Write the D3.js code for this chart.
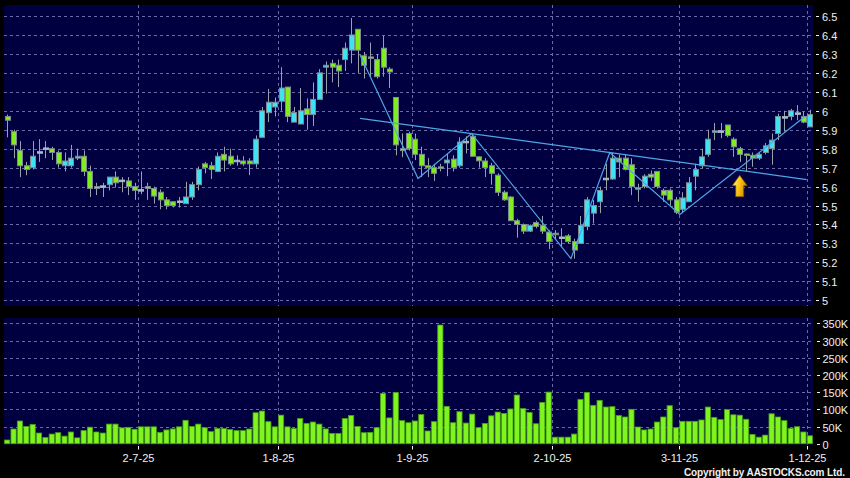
<!DOCTYPE html>
<html><head><meta charset="utf-8">
<script src="https://cdn.jsdelivr.net/npm/d3@7"></script>
<style>html,body{margin:0;padding:0;background:#000;}svg{display:block}</style>
</head><body><svg id="c" width="850" height="478"></svg>
<script>
// ---- data ----
const dates = [
"2-6-25","3-6-25","4-6-25","5-6-25","6-6-25","9-6-25","10-6-25","11-6-25","12-6-25","13-6-25","16-6-25","17-6-25","18-6-25","19-6-25","20-6-25","23-6-25","24-6-25","25-6-25","26-6-25","27-6-25","30-6-25",
"2-7-25","3-7-25","4-7-25","7-7-25","8-7-25","9-7-25","10-7-25","11-7-25","14-7-25","15-7-25","16-7-25","17-7-25","18-7-25","21-7-25","22-7-25","23-7-25","24-7-25","25-7-25","28-7-25","29-7-25","30-7-25","31-7-25",
"1-8-25","4-8-25","5-8-25","6-8-25","7-8-25","8-8-25","11-8-25","12-8-25","13-8-25","14-8-25","15-8-25","18-8-25","19-8-25","20-8-25","21-8-25","22-8-25","25-8-25","26-8-25","27-8-25","28-8-25","29-8-25",
"1-9-25","2-9-25","3-9-25","4-9-25","5-9-25","8-9-25","9-9-25","10-9-25","11-9-25","12-9-25","15-9-25","16-9-25","17-9-25","18-9-25","19-9-25","22-9-25","23-9-25","24-9-25","25-9-25","26-9-25","29-9-25","30-9-25",
"2-10-25","3-10-25","6-10-25","8-10-25","9-10-25","10-10-25","13-10-25","14-10-25","15-10-25","16-10-25","17-10-25","20-10-25","21-10-25","22-10-25","23-10-25","24-10-25","27-10-25","28-10-25","30-10-25","31-10-25",
"3-11-25","4-11-25","5-11-25","6-11-25","7-11-25","10-11-25","11-11-25","12-11-25","13-11-25","14-11-25","17-11-25","18-11-25","19-11-25","20-11-25","21-11-25","24-11-25","25-11-25","26-11-25","27-11-25","28-11-25",
"1-12-25"];
const open = [
5.97,5.89,5.79,5.71,5.70,5.78,5.80,5.80,5.78,5.71,
5.71,5.75,5.76,5.68,5.59,5.60,5.61,5.65,5.63,5.63,
5.60,5.58,5.60,5.59,5.57,5.53,5.52,5.52,5.51,5.545,
5.61,5.72,5.71,5.68,5.77,5.76,5.735,5.735,5.735,5.72,
5.86,5.99,6.02,6.05,6.125,5.94,5.93,6.01,5.98,6.06,
6.23,6.25,6.24,6.27,6.32,6.43,6.29,6.28,6.27,6.33,
6.22,6.07,5.80,5.88,5.85,5.77,5.71,5.70,5.695,5.725,
5.745,5.71,5.835,5.865,5.757,5.735,5.71,5.66,5.57,5.545,
5.42,5.40,5.365,5.41,5.395,5.36,5.35,5.33,5.34,5.31,
5.30,5.39,5.46,5.52,5.64,5.64,5.75,5.75,5.715,5.585,
5.60,5.665,5.68,5.58,5.58,5.53,5.48,5.52,5.655,5.71,
5.77,5.885,5.89,5.925,5.85,5.80,5.768,5.765,5.75,5.78,
5.80,5.88,5.965,5.97,5.985,5.97,5.915];
const high = [
5.98,5.90,5.84,5.73,5.84,5.85,5.84,5.81,5.79,5.78,
5.82,5.80,5.79,5.71,5.62,5.62,5.65,5.68,5.65,5.65,
5.62,5.68,5.62,5.60,5.585,5.545,5.52,5.545,5.625,5.625,
5.705,5.73,5.73,5.78,5.81,5.80,5.765,5.76,5.75,5.87,
6.02,6.115,6.07,6.23,6.125,6.02,6.12,6.065,6.15,6.22,
6.26,6.27,6.27,6.36,6.49,6.43,6.31,6.36,6.30,6.395,
6.23,6.07,5.88,5.89,5.88,5.81,5.75,5.72,5.72,5.775,
5.765,5.86,5.865,5.88,5.76,5.75,5.725,5.67,5.58,5.55,
5.43,5.405,5.40,5.42,5.445,5.37,5.37,5.38,5.35,5.325,
5.445,5.545,5.53,5.60,5.72,5.78,5.77,5.77,5.75,5.615,
5.665,5.685,5.68,5.59,5.59,5.545,5.57,5.65,5.72,5.80,
5.90,5.935,5.935,5.925,5.86,5.81,5.775,5.78,5.78,5.83,
5.88,5.985,6.00,6.01,6.03,5.995,6.005];
const low = [
5.86,5.75,5.65,5.66,5.69,5.73,5.75,5.74,5.70,5.68,
5.70,5.74,5.655,5.545,5.555,5.545,5.58,5.595,5.57,5.555,
5.53,5.56,5.53,5.51,5.48,5.48,5.49,5.49,5.51,5.53,
5.58,5.67,5.64,5.68,5.68,5.71,5.71,5.71,5.66,5.70,
5.86,5.94,5.97,6.00,5.94,5.94,5.93,5.90,5.92,6.06,
6.09,6.15,6.125,6.21,6.25,6.20,6.17,6.18,6.17,6.18,
6.12,5.765,5.755,5.79,5.74,5.65,5.65,5.63,5.68,5.655,
5.68,5.70,5.775,5.76,5.70,5.65,5.61,5.55,5.525,5.42,
5.33,5.35,5.36,5.38,5.35,5.27,5.32,5.28,5.30,5.22,
5.30,5.37,5.405,5.46,5.58,5.635,5.65,5.685,5.555,5.52,
5.59,5.63,5.59,5.52,5.50,5.455,5.46,5.52,5.58,5.695,
5.757,5.845,5.855,5.86,5.757,5.73,5.68,5.705,5.74,5.77,
5.715,5.845,5.89,5.95,5.95,5.935,5.915];
const close = [
5.95,5.82,5.71,5.69,5.76,5.78,5.80,5.78,5.72,5.735,
5.75,5.76,5.68,5.59,5.60,5.60,5.65,5.62,5.63,5.60,
5.58,5.58,5.59,5.55,5.53,5.50,5.50,5.52,5.545,5.61,
5.69,5.70,5.69,5.76,5.74,5.72,5.735,5.72,5.72,5.85,
6.00,6.045,6.045,6.12,5.97,5.99,6.00,5.98,6.06,6.20,
6.24,6.23,6.21,6.33,6.40,6.32,6.24,6.275,6.18,6.23,
6.205,5.82,5.79,5.80,5.77,5.71,5.70,5.67,5.70,5.74,
5.70,5.835,5.835,5.76,5.736,5.70,5.67,5.57,5.53,5.42,
5.40,5.365,5.395,5.39,5.365,5.31,5.345,5.33,5.31,5.265,
5.395,5.53,5.50,5.58,5.64,5.75,5.73,5.69,5.60,5.59,
5.655,5.65,5.60,5.555,5.53,5.465,5.54,5.62,5.69,5.757,
5.85,5.89,5.89,5.87,5.81,5.77,5.763,5.75,5.77,5.815,
5.845,5.97,5.965,6.00,5.985,5.94,5.98];
const volumeK = [
10.7,42.7,66,50,56,31,18,28,32,22,
34,17,38,48,34,31,57,57,46,47.5,
42,49,49,49,33,40,43,49,68,50,
57,46.5,35,44,44,41,38,38,42.7,90,
95,64,49,83,49,44,73,59,63,57,
43,30,30,73,82,50,32,33,46.5,146,
75,149,67,61,66,85,37,64,345,108.6,
61,93,60,86,46.5,59,81,92,88,101,
141.5,102,91,58,120,150,19,19,19,28,
129,149,111.5,126,106.6,107.6,82,77.6,100,48.5,
40,42.7,63,77.6,110.5,46.5,65,65,65,69,
106.6,76.6,70,99,84,83,71,27,19,25,
87,77.6,67,44.6,49.4,34,23];
const priceTicks = [5,5.1,5.2,5.3,5.4,5.5,5.6,5.7,5.8,5.9,6,6.1,6.2,6.3,6.4,6.5];
const volumeTicks = [0,50,100,150,200,250,300,350];
const xTickLabels = ["2-7-25","1-8-25","1-9-25","2-10-25","3-11-25","1-12-25"];
// hand-drawn pattern lines: [bar index, price]
const necklinePts = [[55.4,5.96],[125.5,5.637]];
const zigzagPts = [[55.4,6.294],[64.5,5.643],[72.9,5.88],[88.5,5.22],[94.6,5.78],[105.6,5.453],[125.2,5.968]];
const arrowDate = "14-11-25";
const arrowPrice = 5.66;
const copyright = "Copyright by AASTOCKS.com Ltd.";

// ---- layout ----
const svg = d3.select("#c");
const L = 4, R = 813;
const pTop = 5, pBot = 306, vTop = 318, vBot = 444.5;
const font = "Arial, 'Liberation Sans', sans-serif";
const gridCol = "#6a6aa4";

const xb = d3.scaleBand().domain(dates).range([L, R]).padding(0);
const bw = xb.bandwidth();
const cx = d => xb(d) + bw / 2;
const xi = d3.scaleLinear().domain([0, dates.length - 1]).range([cx(dates[0]), cx(dates[dates.length - 1])]);
const y = d3.scaleLinear().domain([5, 6.5]).range([300.3, 16]);
const yv = d3.scaleLinear().domain([0, 350]).range([443.7, 323.3]);

svg.append("rect").attr("width", 850).attr("height", 478).attr("fill", "#000");
svg.append("rect").attr("x", L).attr("y", pTop).attr("width", R - L).attr("height", pBot - pTop).attr("fill", "#000040");
svg.append("rect").attr("x", L).attr("y", vTop).attr("width", R - L).attr("height", vBot - vTop).attr("fill", "#000040");

// grids
const g = svg.append("g").attr("stroke", gridCol).attr("stroke-width", 1).attr("stroke-dasharray", "3,3");
g.selectAll(".hp").data(priceTicks).join("line")
  .attr("x1", L).attr("x2", R).attr("y1", d => Math.round(y(d)) + 0.5).attr("y2", d => Math.round(y(d)) + 0.5);
g.selectAll(".hv").data(volumeTicks.filter(v => v > 0)).join("line").attr("class","hv")
  .attr("x1", L).attr("x2", R).attr("y1", d => Math.round(yv(d)) + 0.5).attr("y2", d => Math.round(yv(d)) + 0.5);
xTickLabels.forEach(t => {
  const x = Math.round(xb(t)) + 0.5;
  g.append("line").attr("x1", x).attr("x2", x).attr("y1", pTop).attr("y2", pBot);
  g.append("line").attr("x1", x).attr("x2", x).attr("y1", vTop).attr("y2", vBot);
});

// candles
const idx = d3.range(dates.length);
const cg = svg.append("g");
cg.selectAll("line.w").data(idx).join("line").attr("class", "w")
  .attr("x1", i => Math.round(cx(dates[i])) + 0.5).attr("x2", i => Math.round(cx(dates[i])) + 0.5)
  .attr("y1", i => y(high[i])).attr("y2", i => y(low[i]))
  .attr("stroke", "#9aa0a8").attr("stroke-width", 1);
const bodyW = 5;
cg.selectAll("rect.b").data(idx).join("rect").attr("class", "b")
  .attr("x", i => Math.round(cx(dates[i]) - bodyW / 2) + 0.5)
  .attr("width", bodyW)
  .attr("y", i => Math.min(y(open[i]), y(close[i])) - (Math.abs(y(open[i]) - y(close[i])) < 1.5 ? 0.75 : 0))
  .attr("height", i => Math.max(1.5, Math.abs(y(open[i]) - y(close[i]))))
  .attr("fill", i => close[i] > open[i] + 0.003 ? "#3de3f3" : (close[i] < open[i] - 0.003 ? "#80ee1c" : "#a8c4cc"))
  .attr("stroke", i => Math.abs(close[i] - open[i]) <= 0.003 ? "#a8b8c0" : "#7c8a92")
  .attr("stroke-width", 1);

// volume
svg.append("g").selectAll("rect").data(idx).join("rect")
  .attr("x", i => cx(dates[i]) - 2.6).attr("width", 5.2)
  .attr("y", i => yv(volumeK[i])).attr("height", i => yv(0) - yv(volumeK[i]))
  .attr("fill", "#80f41e").attr("stroke", "#45a012").attr("stroke-width", 0.8);

// pattern lines
const ln = d3.line().x(d => xi(d[0])).y(d => y(d[1]));
svg.append("path").attr("d", ln(necklinePts)).attr("fill", "none").attr("stroke", "#4ea6e4").attr("stroke-width", 1.2);
svg.append("path").attr("d", ln(zigzagPts)).attr("fill", "none").attr("stroke", "#4ea6e4").attr("stroke-width", 1.2);

// arrow
const defs = svg.append("defs");
const gr = defs.append("linearGradient").attr("id", "ag").attr("x1", "0").attr("x2", "1").attr("y1", "0").attr("y2", "0.3");
gr.append("stop").attr("offset", "0").attr("stop-color", "#fff7a0");
gr.append("stop").attr("offset", "0.45").attr("stop-color", "#ffd21e");
gr.append("stop").attr("offset", "1").attr("stop-color", "#d98a00");
const ax = cx(arrowDate), ay = y(arrowPrice);
const arrowPath = `M${ax},${ay} L${ax + 7.5},${ay + 10.5} L${ax + 4},${ay + 10.5} L${ax + 4},${ay + 21.5} L${ax - 4},${ay + 21.5} L${ax - 4},${ay + 10.5} L${ax - 7.5},${ay + 10.5} Z`;
svg.append("path").attr("d", arrowPath).attr("fill", "url(#ag)").attr("stroke", "#7a4a00").attr("stroke-width", 0.8);

// right axes
const axisTxt = "#f0f0f0";
const ra = svg.append("g").attr("font-family", font).attr("font-size", 11).attr("fill", axisTxt);
priceTicks.forEach(v => {
  const yy = Math.round(y(v)) + 0.5;
  ra.append("line").attr("x1", 816).attr("x2", 819).attr("y1", yy).attr("y2", yy).attr("stroke", axisTxt);
  ra.append("text").attr("x", 822).attr("y", yy + 4).text(String(+v.toFixed(1)));
});
volumeTicks.forEach(v => {
  const yy = Math.round(yv(v)) + 0.5;
  ra.append("line").attr("x1", 817).attr("x2", 820).attr("y1", yy).attr("y2", yy).attr("stroke", axisTxt);
  ra.append("text").attr("x", 822.5).attr("y", yy + 4).text(v === 0 ? "0" : v + "K");
});

// x axis
const xa = svg.append("g").attr("font-family", font).attr("font-size", 11).attr("fill", axisTxt);
xTickLabels.forEach(t => {
  const x = Math.round(xb(t)) + 0.5;
  xa.append("line").attr("x1", x).attr("x2", x).attr("y1", 446).attr("y2", 449.5).attr("stroke", axisTxt);
  xa.append("text").attr("x", x).attr("y", 462).attr("text-anchor", "middle").text(t);
});

svg.append("text").attr("x", 684).attr("y", 475.5)
  .attr("font-family", font).attr("font-size", 10).attr("font-weight", "bold")
  .attr("textLength", 161).attr("lengthAdjust", "spacing")
  .attr("fill", "#f0f0f0").text(copyright);
</script>
</body></html>
